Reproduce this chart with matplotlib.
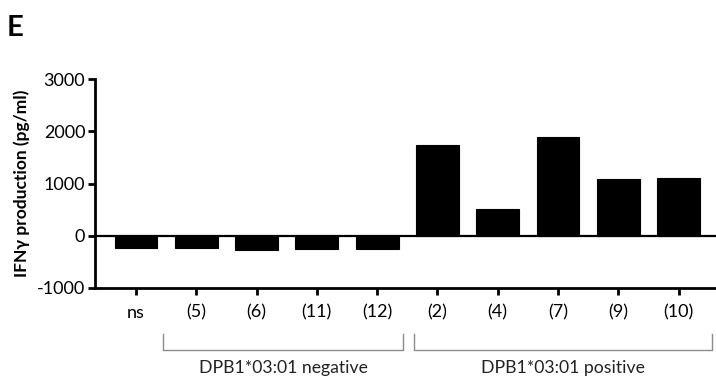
import matplotlib.pyplot as plt
from matplotlib.transforms import blended_transform_factory

labels = ['ns', '(5)', '(6)', '(11)', '(12)', '(2)', '(4)', '(7)', '(9)', '(10)']
values = [-230, -240, -270, -250, -250, 1730, 515, 1890, 1085, 1110]
groups = ['DPB1*03:01 negative', 'DPB1*03:01 positive']

plt.rcParams['font.family'] = ['Lato', 'DejaVu Sans']
plt.rcParams['axes.unicode_minus'] = False

fig = plt.figure(figsize=(7.16, 3.83), dpi=100)
ax = fig.add_axes([95/716, 1 - 288/383, 1 - 95/716, (288 - 79)/383])

x = list(range(len(labels)))
ax.bar(x, values, width=0.71, color='black', edgecolor='black', linewidth=0.8, zorder=2)
ax.axhline(0, color='black', lw=1.6, zorder=3)

ax.set_xlim(-0.68, 9.62)
ax.set_ylim(-1000, 3000)
ax.set_yticks([-1000, 0, 1000, 2000, 3000])
ax.set_xticks(x)
ax.set_xticklabels(labels)
for s in ['top', 'right']:
    ax.spines[s].set_visible(False)
for s in ['left', 'bottom']:
    ax.spines[s].set_linewidth(2)
ax.tick_params(axis='both', width=2, length=5, labelsize=13, colors='black')
ax.tick_params(axis='x', pad=7)
ax.tick_params(axis='y', pad=2)
ax.set_ylabel('IFNγ production (pg/ml)', fontsize=12.5, fontweight='bold', labelpad=5)

# group brackets below the axis
tr = blended_transform_factory(ax.transData, fig.transFigure)
spans = [(0.45, 4.43), (4.61, 9.55)]
y_line = 1 - 350/383
y_top = 1 - 334/383
for (a, b), g in zip(spans, groups):
    ax.plot([a, a, b, b], [y_top, y_line, y_line, y_top], transform=tr,
            color='#8c8c8c', lw=1, clip_on=False)
    ax.text((a + b) / 2, 1 - 368/383, g, transform=tr, ha='center', va='center',
            fontsize=12.7, color='#222222')

fig.text(7/716, 1 - 28/383, 'E', fontsize=21, fontweight='bold', va='center', ha='left')

fig.savefig('out.png', dpi=100)
